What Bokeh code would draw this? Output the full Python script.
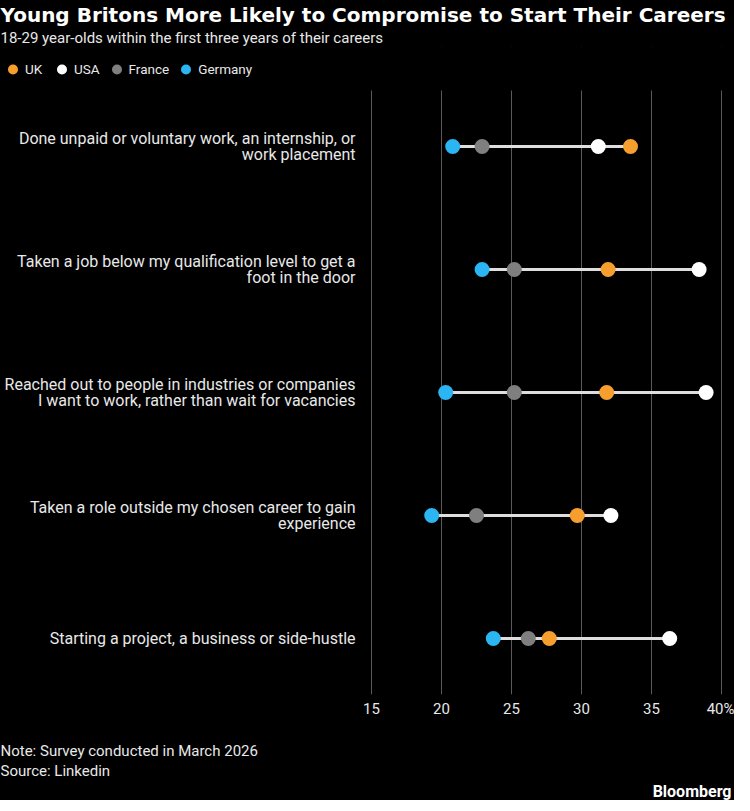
from bokeh.plotting import figure
from bokeh.models import Range1d, FixedTicker, Title, Legend, LegendItem, BoxAnnotation
from bokeh.core.properties import value
from bokeh.embed import file_html
from bokeh.resources import INLINE

# ---------------- data ----------------
categories = [
    "Done unpaid or voluntary work, an internship, or\nwork placement",
    "Taken a job below my qualification level to get a\nfoot in the door",
    "Reached out to people in industries or companies\nI want to work, rather than wait for vacancies",
    "Taken a role outside my chosen career to gain\nexperience",
    "Starting a project, a business or side-hustle",
]
uk = [33.5, 31.9, 31.8, 29.7, 27.7]
usa = [31.2, 38.4, 38.9, 32.1, 36.3]
france = [22.9, 25.2, 25.2, 22.5, 26.2]
germany = [20.8, 22.9, 20.3, 19.3, 23.7]
series_names = ["UK", "USA", "France", "Germany"]
series_colors = ["#f79f2e", "#ffffff", "#7f7f7f", "#2bb5f2"]
x_ticks = [15, 20, 25, 30, 35, 40]
tick_labels = ["15", "20", "25", "30", "35", "40%"]

title_text = "Young Britons More Likely to Compromise to Start Their Careers"
subtitle_text = "18-29 year-olds within the first three years of their careers"
note_text = "Note: Survey conducted in March 2026"
source_text = "Source: Linkedin"
brand_text = "Bloomberg"

FONT = "Roboto"
TXT = "#e8e8e8"

# ---------------- layout (pixels) ----------------
W = 734
X15 = 371                 # pixel of the first tick
PXU = 14.0                # pixels per percentage point
ROW = 123.0               # pixels between rows
F_TOP = 46                # frame top (legend row sits inside the frame)
GRID_TOP = 90             # gridlines start here
ROW0 = 146                # first row
F_BOT = 694               # frame bottom

x_start = x_ticks[0] - X15 / PXU
x_end = x_start + W / PXU
y_top = -(ROW0 - F_TOP) / ROW
y_bot = (len(categories) - 1) + (F_BOT - ROW0 - (len(categories) - 1) * ROW) / ROW

p = figure(frame_width=W, frame_height=F_BOT - F_TOP, output_backend="svg",
           toolbar_location=None,
           x_range=Range1d(x_start, x_end), y_range=Range1d(y_bot, y_top),
           y_axis_location=None, title=None,
           min_border_left=0, min_border_right=0,
           min_border_top=F_TOP, min_border_bottom=0)
p.styles = {"background-color": "black"}
p.background_fill_color = "black"
p.border_fill_color = None
p.outline_line_color = None

p.xaxis.ticker = FixedTicker(ticks=x_ticks)
p.xgrid.grid_line_color = "#5a5a5a"
p.xgrid.grid_line_width = 1
p.ygrid.grid_line_color = None

ax = p.xaxis[0]
ax.axis_line_color = None
ax.major_tick_line_color = None
ax.minor_tick_line_color = None
ax.major_tick_out = 0
ax.major_tick_in = 0
ax.major_label_standoff = 5
ax.major_label_text_color = TXT
ax.major_label_text_font = FONT
ax.major_label_text_font_size = "15px"
ax.major_label_overrides = {t: l for t, l in zip(x_ticks, tick_labels)}
# spacing between the tick labels and the notes
ax.axis_label = " "
ax.axis_label_text_font_size = "1px"
ax.axis_label_standoff = 15

# hide the grid in the legend band at the top of the frame
p.add_layout(BoxAnnotation(top=y_top, bottom=y_top + (GRID_TOP - F_TOP) / ROW,
                           fill_color="black", fill_alpha=1, line_color=None))

ys = list(range(len(categories)))
lo = [min(v) for v in zip(uk, usa, france, germany)]
hi = [max(v) for v in zip(uk, usa, france, germany)]
p.segment(x0=lo, y0=ys, x1=hi, y1=ys, line_color="#dedede", line_width=3)

renderers = []
for name, vals, col in zip(series_names, [uk, usa, france, germany], series_colors):
    renderers.append(p.scatter(x=vals, y=ys, size=15, fill_color=col, line_color=None))

# category labels (inside the frame, left of the first tick)
p.text(x=[x_ticks[0] - 16 / PXU] * len(categories), y=ys, text=categories,
       text_align="right", text_baseline="middle", text_color=TXT,
       text_font=value(FONT), text_font_size="16px", text_line_height=0.85)

# legend at the top-left of the frame
legend = Legend(items=[LegendItem(label=n, renderers=[r]) for n, r in zip(series_names, renderers)],
                orientation="horizontal", location="top_left",
                glyph_width=25, glyph_height=46, label_standoff=0, spacing=4,
                padding=0, margin=0, border_line_color=None,
                background_fill_alpha=0, label_text_color=TXT,
                label_text_font=FONT, label_text_font_size="13.5px")
p.add_layout(legend, "center")

# above: subtitle (nearest frame), title
p.add_layout(Title(text=subtitle_text, text_font=FONT, text_font_style="normal",
                   text_font_size="15px", text_color=TXT, standoff=0, offset=0), "above")
p.add_layout(Title(text=title_text, text_font="DejaVu Sans", text_font_style="bold",
                   text_font_size="20px", text_color="white", standoff=0, offset=0), "above")

# below: axis (already), note, source, brand
p.add_layout(Title(text=note_text, text_font=FONT, text_font_style="normal",
                   text_font_size="15px", text_color=TXT, standoff=0, offset=0), "below")
p.add_layout(Title(text=source_text, text_font=FONT, text_font_style="normal",
                   text_font_size="15px", text_color=TXT, standoff=0, offset=0), "below")
p.add_layout(Title(text=brand_text, text_font=FONT, text_font_style="bold", align="right",
                   text_font_size="16px", text_color="white", standoff=0, offset=3), "below")

open("out.html", "w").write(file_html(p, INLINE))
